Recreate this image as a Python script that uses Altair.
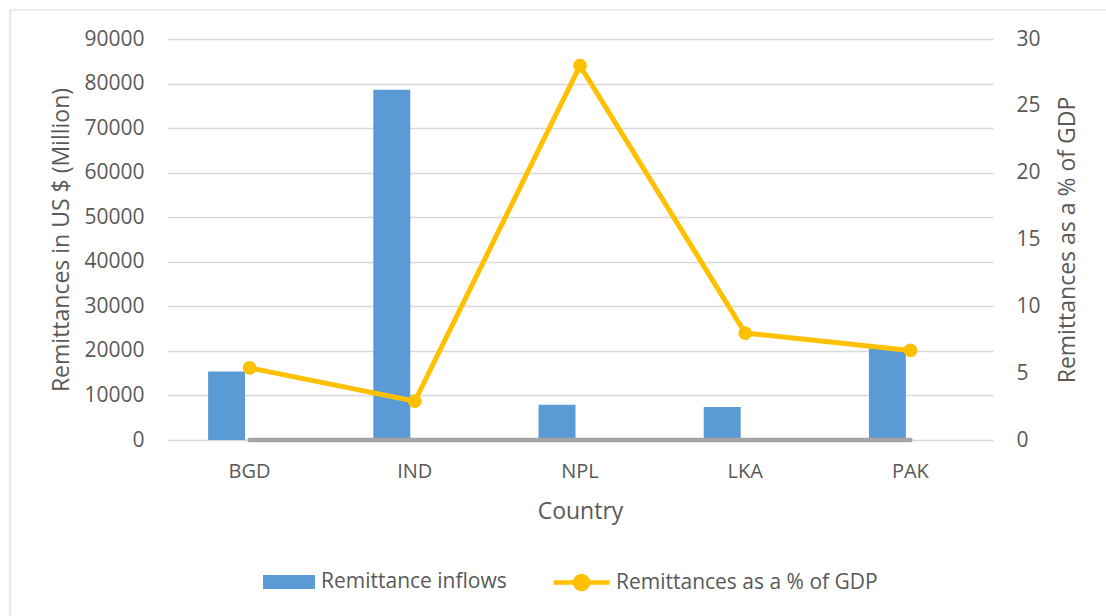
import altair as alt
import pandas as pd

countries = ["BGD", "IND", "NPL", "LKA", "PAK"]
inflows = [15400, 78600, 7900, 7400, 20600]
pct_gdp = [5.4, 2.9, 28.0, 8.0, 6.7]
zero_series = [0, 0, 0, 0, 0]

bar_name = "Remittance inflows"
line_name = "Remittances as a % of GDP"

df = pd.DataFrame({
    "country": countries,
    "inflow": inflows,
    "pct": pct_gdp,
    "zero": zero_series,
    "s_bar": [bar_name] * 5,
    "s_line": [line_name] * 5,
})

FONT = "Open Sans"
TXT = "#595959"
BLUE = "#5B9BD5"
GOLD = "#FFC000"
GRAY = "#A5A5A5"
GRID = "#D9D9D9"

W, H = 826, 401

x_enc = alt.X(
    "country:N", sort=countries,
    scale=alt.Scale(paddingInner=0, paddingOuter=0),
    axis=alt.Axis(title="Country", ticks=False, domain=False, grid=False,
                  labelAngle=0, labelFontSize=20, labelColor=TXT, labelFont=FONT,
                  labelPadding=31, labelBaseline="middle",
                  titleFontSize=23, titleColor=TXT, titleFont=FONT, titleFontWeight="normal",
                  titleX=W / 2, titleY=71, titleBaseline="middle", titleAlign="center"),
)

left_axis = alt.Axis(
    title="Remittances in US $ (Million)", values=list(range(0, 90001, 10000)), format="d",
    ticks=False, domain=False, grid=True, gridColor=GRID, gridWidth=1.5,
    labelFontSize=21, labelColor=TXT, labelFont=FONT, labelPadding=23,
    titleFontSize=23, titleColor=TXT, titleFont=FONT, titleFontWeight="normal",
    titleX=-106, titleY=H / 2, titleAngle=270, titleAlign="center", titleBaseline="middle",
)
left_scale = alt.Scale(domain=[0, 90000], nice=False, zero=True)

bars = alt.Chart(df).mark_bar(width=37, xOffset=-23, color=BLUE).encode(
    x=x_enc,
    y=alt.Y("inflow:Q", scale=left_scale, axis=left_axis),
    color=alt.Color(
        "s_bar:N",
        scale=alt.Scale(domain=[bar_name], range=[BLUE]),
        legend=alt.Legend(
            title=None, orient="none", legendX=96, legendY=517,
            symbolType="M-1,-0.27H1V0.27H-1Z", symbolSize=2704, symbolStrokeWidth=0,
            labelOffset=6, labelFontSize=21, labelColor=TXT, labelFont=FONT, labelLimit=0,
        ),
    ),
)

gray_line = alt.Chart(df).mark_line(color=GRAY, strokeWidth=4.5, strokeCap="round").encode(
    x=x_enc,
    y=alt.Y("zero:Q", scale=left_scale, axis=left_axis),
)

left = alt.layer(bars, gray_line)

right_axis = alt.Axis(
    orient="right", title="Remittances as a % of GDP", values=[0, 5, 10, 15, 20, 25, 30],
    ticks=False, domain=False, grid=False,
    labelFontSize=21, labelColor=TXT, labelFont=FONT, labelPadding=23,
    titleFontSize=23, titleColor=TXT, titleFont=FONT, titleFontWeight="normal",
    titleX=74, titleY=H / 2, titleAngle=270, titleAlign="center", titleBaseline="middle",
)

gold_line = alt.Chart(df).mark_line(
    strokeWidth=5, point=alt.OverlayMarkDef(size=190, filled=True, color=GOLD)
).encode(
    x=x_enc,
    y=alt.Y("pct:Q", scale=alt.Scale(domain=[0, 30], nice=False), axis=right_axis),
    color=alt.Color(
        "s_line:N",
        scale=alt.Scale(domain=[line_name], range=[GOLD]),
        legend=alt.Legend(
            title=None, orient="none", legendX=384, legendY=513,
            symbolType="M-1,0H1M-0.23,0A0.23,0.23 0 1,0 0.23,0A0.23,0.23 0 1,0 -0.23,0Z",
            symbolSize=3136, symbolStrokeWidth=4.5,
            symbolFillColor=GOLD, symbolStrokeColor=GOLD,
            labelOffset=4, labelFontSize=21, labelColor=TXT, labelFont=FONT, labelLimit=0,
        ),
    ),
)

border = alt.Chart(alt.Data(values=[{"k": 1}])).mark_rect(
    fillOpacity=0, stroke=GRID, strokeWidth=1.2, clip=False
).encode(
    x=alt.value(-157), x2=alt.value(W + 200), y=alt.value(-29), y2=alt.value(H + 250)
)

chart = alt.layer(border, left, gold_line).resolve_scale(
    y="independent", color="independent"
).properties(
    width=W, height=H,
    autosize=alt.AutoSizeParams(type="none"),
    padding={"left": 167, "top": 39, "right": 113, "bottom": 176},
    background="white",
).configure_view(stroke=None)

chart.save("out.html", embed_options={"renderer": "svg", "actions": False})
